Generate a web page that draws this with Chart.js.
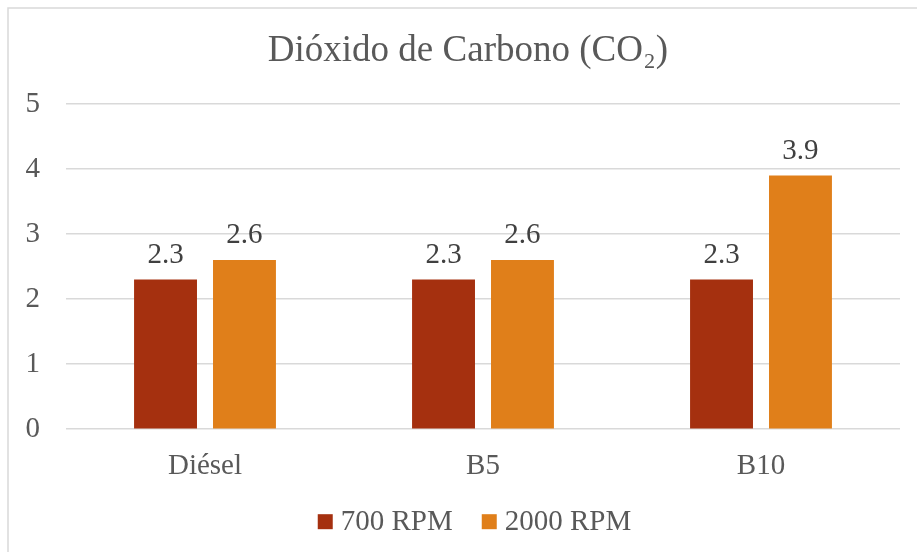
<!DOCTYPE html>
<html>
<head>
<meta charset="utf-8">
<script src="https://cdn.jsdelivr.net/npm/chart.js@4/dist/chart.umd.min.js"></script>
<style>
  html, body { margin: 0; padding: 0; background: #fff; }
  #wrap { position: relative; width: 917px; height: 552px; }
</style>
</head>
<body>
<div id="wrap"><canvas id="c" width="917" height="552"></canvas></div>
<script>
const categories = ['Diésel', 'B5', 'B10'];
const rpm700 = [2.3, 2.3, 2.3];
const rpm2000 = [2.6, 2.6, 3.9];
const seriesNames = ['700 RPM', '2000 RPM'];
const seriesColors = ['#A5300F', '#E07F1A'];
const yTicks = [0, 1, 2, 3, 4, 5];

const FONT = "'Liberation Serif', 'Times New Roman', serif";
const TEXT = '#595959';

// Centre the title over the plot rather than the whole canvas
const titleOffset = {
  id: 'titleOffset',
  afterLayout(chart) {
    const t = chart.titleBlock;
    if (t) { t.left += 14; t.right += 14; }
  }
};

// Value labels above each bar
const valueLabels = {
  id: 'valueLabels',
  afterDatasetsDraw(chart) {
    const ctx = chart.ctx;
    ctx.save();
    ctx.font = `29px ${FONT}`;
    ctx.fillStyle = '#404040';
    ctx.textAlign = 'center';
    ctx.textBaseline = 'alphabetic';
    chart.data.datasets.forEach((ds, i) => {
      chart.getDatasetMeta(i).data.forEach((bar, j) => {
        ctx.fillText(ds.data[j].toFixed(1), bar.x, bar.y - 17);
      });
    });
    ctx.restore();
  }
};

// Legend row under the axis: square swatch, short gap, series name
const bottomLegend = {
  id: 'bottomLegend',
  afterDraw(chart) {
    const ctx = chart.ctx;
    ctx.save();
    ctx.font = `29px ${FONT}`;
    const box = 15, gap = 8, spacing = 29;
    const items = chart.data.datasets.map(ds => ({
      text: ds.label, color: ds.backgroundColor, w: box + gap + ctx.measureText(ds.label).width
    }));
    const total = items.reduce((s, it) => s + it.w, 0) + spacing * (items.length - 1);
    let x = chart.width / 2 + 16 - total / 2;
    const baseline = chart.chartArea.bottom + 101;
    items.forEach(it => {
      ctx.fillStyle = it.color;
      ctx.fillRect(x, baseline - 16, box, box);
      ctx.fillStyle = TEXT;
      ctx.textAlign = 'left';
      ctx.textBaseline = 'alphabetic';
      ctx.fillText(it.text, x + box + gap, baseline);
      x += it.w + spacing;
    });
    ctx.restore();
  }
};

// Light frame around the whole chart
const frame = {
  id: 'frame',
  beforeDraw(chart) {
    const ctx = chart.ctx;
    ctx.save();
    ctx.fillStyle = '#fff';
    ctx.fillRect(0, 0, chart.width, chart.height);
    ctx.strokeStyle = '#d9d9d9';
    ctx.lineWidth = 1.5;
    ctx.strokeRect(8, 8, chart.width + 10, chart.height + 10);
    ctx.restore();
  }
};

new Chart(document.getElementById('c'), {
  type: 'bar',
  data: {
    labels: categories,
    datasets: [
      { label: seriesNames[0], data: rpm700, backgroundColor: seriesColors[0] },
      { label: seriesNames[1], data: rpm2000, backgroundColor: seriesColors[1] }
    ]
  },
  options: {
    responsive: false,
    animation: false,
    devicePixelRatio: 1,
    categoryPercentage: 0.568,
    barPercentage: 0.797,
    layout: { padding: { left: 8, right: 17, top: 0, bottom: 48 } },
    plugins: {
      title: {
        display: true,
        text: 'Dióxido de Carbono (CO₂)',
        color: TEXT,
        font: { family: FONT, size: 37, weight: 'normal' },
        padding: { top: 29, bottom: 30.6 }
      },
      legend: { display: false },
      tooltip: { enabled: false }
    },
    scales: {
      x: {
        grid: { display: false, drawTicks: false },
        border: { display: false },
        ticks: { color: TEXT, font: { family: FONT, size: 29 }, padding: 20 }
      },
      y: {
        min: 0,
        max: 5,
        afterBuildTicks(scale) { scale.ticks = yTicks.map(v => ({ value: v })); },
        afterFit(scale) { scale.width = 58; },
        grid: { color: '#d9d9d9', lineWidth: 1.5, drawTicks: false },
        border: { display: false },
        ticks: { color: TEXT, font: { family: FONT, size: 29 }, padding: 26 }
      }
    }
  },
  plugins: [frame, titleOffset, valueLabels, bottomLegend]
});
</script>
</body>
</html>
